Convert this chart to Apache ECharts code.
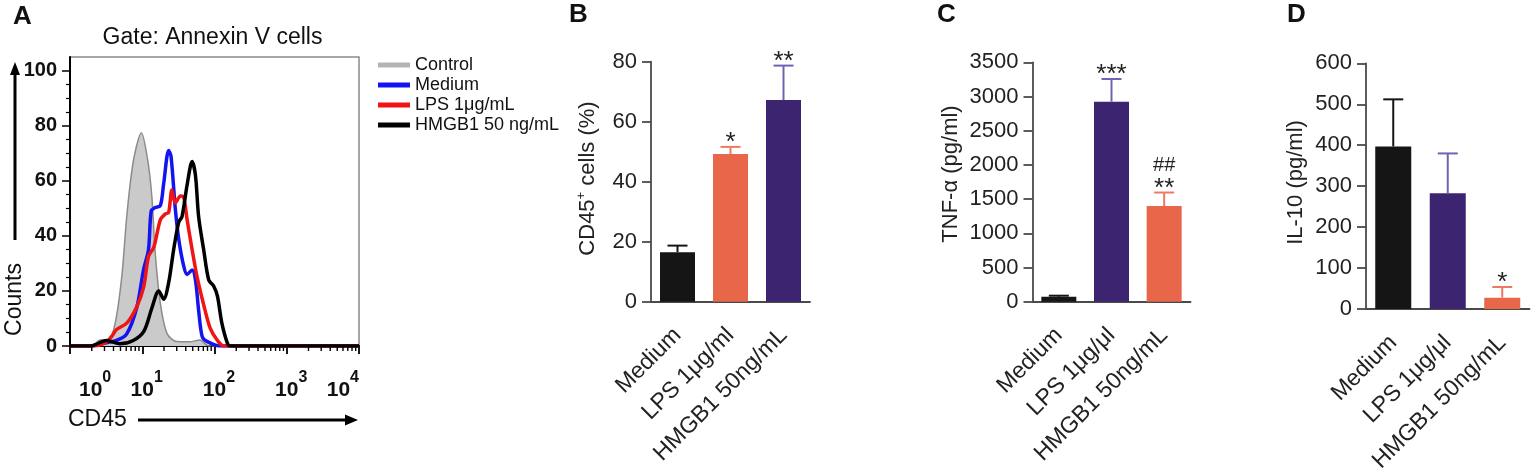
<!DOCTYPE html>
<html>
<head>
<meta charset="utf-8">
<script src="https://cdn.jsdelivr.net/npm/echarts/dist/echarts.min.js"></script>
<style>
html,body{margin:0;padding:0;background:#fff}
#chart{width:1535px;height:475px}
</style>
</head>
<body>
<div id="chart"></div>
<script>
// ---- panel A: CD45 histograms (x = CD45 intensity, y = counts) ----
const histNames = ['Control', 'Medium', 'LPS 1μg/mL', 'HMGB1 50 ng/mL']
const histControl = [[1,0],[2.1,0.5],[2.6,2.2],[3.4,2.4],[4.2,8],[5.2,25],[6.1,47],[7.2,64],[8.3,72.5],[9.7,77.5],[11.9,67.5],[13.6,54],[15.1,34],[17.8,15.5],[22,4.6],[30,1.6],[45,1.5],[63,2.2],[83,0],[10000,0]]
const histMedium = [[1,0],[1.9,0],[2.9,1],[4.4,2],[6.1,4.4],[8.4,14],[10.4,27.6],[12.2,35],[13.3,49],[15.1,50.3],[17.8,51],[19.8,59],[23.2,71],[25,69],[28.7,49.7],[32,38.8],[37.5,29],[41.7,26],[49,27.6],[54.5,24],[60.3,13],[67.6,3.4],[79.4,1.6],[120,0],[10000,0]]
const histLPS = [[1,0],[2.1,0],[3.2,1.5],[3.9,4],[4.4,6],[6.1,8.3],[8.4,14.3],[10.5,21.6],[12.2,32.5],[14.5,36],[17.8,45.8],[20.9,48],[23.2,48.5],[25.7,56.7],[28.7,52],[33.9,54.5],[37.5,54],[41.7,46],[49,35],[57.5,25],[70.8,15],[87.1,6.5],[110,2],[135,0],[10000,0]]
const histHMGB1 = [[1,0],[1.9,0],[3.2,2],[4.9,0.8],[7.5,2],[10.5,5.3],[13.6,13.8],[16.9,20],[19.8,17],[23.2,23],[27.2,35],[32,45],[35.5,47],[41.7,58.4],[49,67],[54.5,62],[60.3,47],[70.8,35],[83.2,24],[97.7,21.7],[110,18],[126,8.5],[151,1],[166,0],[10000,0]]
const countTicks = [0, 20, 40, 60, 80, 100]

// the CD45 axis is drawn in decades (log10 of intensity)
const toDecades = pts => pts.map(p => [Math.log10(p[0]), p[1]])

// log-scale minor ticks (2..9 of every decade), in decades
const minorDecadeTicks = []
for (let d = 0; d < 4; d++)
    for (let k = 2; k <= 9; k++)
        minorDecadeTicks.push([d + Math.log10(k), 0])

// ---- panels B, C, D: bar charts (mean + SEM) ----
const catB = ['Medium', 'LPS 1μg/ml', 'HMGB1 50ng/mL']
const catCD = ['Medium', 'LPS 1μg/μl', 'HMGB1 50ng/mL']

const cd45Mean = [16.5, 49.2, 67.2]
const cd45Sem = [2.2, 2.4, 11.5]
const cd45Sig = [[], ['*'], ['**']]

const tnfMean = [73, 2924, 1399]
const tnfSem = [15, 332, 197]
const tnfSig = [[], ['***'], ['##', '**']]

const il10Mean = [397, 283, 28]
const il10Sem = [115, 97, 26]
const il10Sig = [[], [], ['*']]

// colours
const BLACK = '#151515', ORANGE = '#e8664a', PURPLE = '#3d2470'
const ERR_ORANGE = '#ef7a62', ERR_PURPLE = '#7262b0'
const FONT = '"Liberation Sans", Arial, sans-serif'
const AXIS_GRAY = '#4a4a4a'

function barData(means, colors){
    return means.map((v, i) => ({value: v, itemStyle: {color: colors[i]}}))
}

function errData(means, sems){
    return means.map((v, i) => [i, v, sems[i]])
}

// error bars (upper only, GraphPad style) + significance marks
function errRender(colors, sigs){
    return function(params, api){
        const i = params.dataIndex
        const base = api.coord([api.value(0), api.value(1)])
        const top = api.coord([api.value(0), api.value(1) + api.value(2)])
        const x = base[0]
        const st = {stroke: colors[i], lineWidth: 2}
        const kids = [
            {type: 'line', shape: {x1: x, y1: base[1], x2: x, y2: top[1]}, style: st},
            {type: 'line', shape: {x1: x - 10, y1: top[1], x2: x + 10, y2: top[1]}, style: st}
        ]
        const lines = sigs[i]
        const n = lines.length
        for (let k = 0; k < n; k++){
            const isStar = lines[k].indexOf('*') >= 0
            const y = top[1] - 4 - 23 * (n - 1 - k)
            kids.push({
                type: 'text',
                style: {
                    text: lines[k], x: x, y: y,
                    font: (isStar ? '26px ' : '20px ') + FONT,
                    fill: '#222', align: 'center', verticalAlign: 'middle'
                }
            })
        }
        return {type: 'group', children: kids}
    }
}

// short minor ticks under the CD45 axis
function minorTickRender(params, api){
    const p = api.coord([api.value(0), 0])
    return {
        type: 'line',
        shape: {x1: p[0], y1: p[1], x2: p[0], y2: p[1] + 5},
        style: {stroke: '#000', lineWidth: 1.4}
    }
}

function catAxis(grid, cats){
    return {
        type: 'category', gridIndex: grid, data: cats,
        axisLine: {lineStyle: {color: AXIS_GRAY, width: 1.8}},
        axisTick: {alignWithLabel: true, length: 10, lineStyle: {color: AXIS_GRAY, width: 1.8}},
        axisLabel: {rotate: 45, margin: 30, fontSize: 23, color: '#222', fontFamily: FONT, interval: 0}
    }
}

function valAxis(grid, max, step){
    return {
        type: 'value', gridIndex: grid, min: 0, max: max, interval: step,
        splitLine: {show: false},
        axisLine: {show: true, lineStyle: {color: AXIS_GRAY, width: 1.8}},
        axisTick: {show: true, length: 9, lineStyle: {color: AXIS_GRAY, width: 1.8}},
        axisLabel: {margin: 14, fontSize: 22, color: '#222', fontFamily: FONT, formatter: v => String(v)}
    }
}

function txt(x, y, text, font, extra){
    return Object.assign({
        type: 'text', x: x, y: y, silent: true,
        style: Object.assign({
            text: text, font: font + ' ' + FONT, fill: '#111',
            align: 'left', verticalAlign: 'middle'
        }, extra && extra.style)
    }, extra && extra.el)
}

let option = {
    animation: false,
    backgroundColor: '#fff',
    legend: {
        data: histNames,
        orient: 'vertical', left: 373, top: 50,
        icon: 'rect', itemWidth: 32, itemHeight: 5, itemGap: 0,
        textStyle: {fontSize: 18, color: '#111', fontFamily: FONT, lineHeight: 20}
    },
    grid: [
        {left: 70, right: 1176, top: 57, bottom: 129, show: true, borderColor: '#8a8a8a', borderWidth: 1.5},
        {left: 651, right: 725, top: 61.7, bottom: 173.3},
        {left: 1032.5, right: 344.5, top: 62.3, bottom: 173.3},
        {left: 1366, right: 5.5, top: 63.3, bottom: 165.7}
    ],
    xAxis: [
        {
            type: 'value', min: 0, max: 4, interval: 1, gridIndex: 0,
            splitLine: {show: false},
            axisLine: {onZero: false, lineStyle: {color: '#000', width: 2}},
            axisTick: {length: 8, lineStyle: {color: '#000', width: 1.8}},
            axisLabel: {
                margin: 24, alignMinLabel: 'left', alignMaxLabel: 'right',
                formatter: v => '{b|10}{s|' + v + '}',
                rich: {
                    b: {fontSize: 21, fontWeight: 'bold', lineHeight: 40, color: '#111', fontFamily: FONT, padding: [0, 0, 0, 9]},
                    s: {fontSize: 16, fontWeight: 'bold', lineHeight: 16, verticalAlign: 'top', color: '#111', fontFamily: FONT}
                }
            }
        },
        catAxis(1, catB),
        catAxis(2, catCD),
        catAxis(3, catCD)
    ],
    yAxis: [
        {
            type: 'value', gridIndex: 0, min: 0, max: 105, interval: 20,
            splitLine: {show: false},
            axisLine: {show: true, lineStyle: {color: '#000', width: 2}},
            axisTick: {show: true, length: 8, lineStyle: {color: '#000', width: 1.5}, customValues: countTicks},
            minorTick: {show: true, splitNumber: 4, length: 4, lineStyle: {color: '#000', width: 1.2}},
            axisLabel: {
                margin: 13, fontSize: 20, fontWeight: 'bold', color: '#111', fontFamily: FONT,
                customValues: countTicks,
                formatter: v => (v % 20 === 0 ? String(v) : '')
            }
        },
        valAxis(1, 80, 20),
        valAxis(2, 3500, 500),
        valAxis(3, 600, 100)
    ],
    series: [
        {
            name: histNames[0], type: 'line', xAxisIndex: 0, yAxisIndex: 0, data: toDecades(histControl),
            smooth: 0.3, symbol: 'none', color: '#b4b4b4',
            lineStyle: {color: '#8c8c8c', width: 1.5},
            areaStyle: {color: '#cacaca', opacity: 1}
        },
        {
            name: histNames[1], type: 'line', xAxisIndex: 0, yAxisIndex: 0, data: toDecades(histMedium),
            smooth: 0.3, symbol: 'none', color: '#1414f0', lineStyle: {width: 3.5}
        },
        {
            name: histNames[2], type: 'line', xAxisIndex: 0, yAxisIndex: 0, data: toDecades(histLPS),
            smooth: 0.3, symbol: 'none', color: '#f01414', lineStyle: {width: 3.5}
        },
        {
            name: histNames[3], type: 'line', xAxisIndex: 0, yAxisIndex: 0, data: toDecades(histHMGB1),
            smooth: 0.3, symbol: 'none', color: '#000', lineStyle: {width: 3.5}
        },
        {
            type: 'custom', xAxisIndex: 0, yAxisIndex: 0, data: minorDecadeTicks,
            renderItem: minorTickRender, clip: false, silent: true, z: 10
        },
        // B
        {type: 'bar', xAxisIndex: 1, yAxisIndex: 1, barWidth: 35, data: barData(cd45Mean, [BLACK, ORANGE, PURPLE])},
        {type: 'custom', xAxisIndex: 1, yAxisIndex: 1, data: errData(cd45Mean, cd45Sem),
            renderItem: errRender([BLACK, ERR_ORANGE, ERR_PURPLE], cd45Sig), z: 3},
        // C
        {type: 'bar', xAxisIndex: 2, yAxisIndex: 2, barWidth: 35, data: barData(tnfMean, [BLACK, PURPLE, ORANGE])},
        {type: 'custom', xAxisIndex: 2, yAxisIndex: 2, data: errData(tnfMean, tnfSem),
            renderItem: errRender([BLACK, ERR_PURPLE, ERR_ORANGE], tnfSig), z: 3},
        // D
        {type: 'bar', xAxisIndex: 3, yAxisIndex: 3, barWidth: 36, data: barData(il10Mean, [BLACK, PURPLE, ORANGE])},
        {type: 'custom', xAxisIndex: 3, yAxisIndex: 3, data: errData(il10Mean, il10Sem),
            renderItem: errRender([BLACK, ERR_PURPLE, ERR_ORANGE], il10Sig), z: 3}
    ],
    graphic: [
        // panel letters
        txt(13, 16.5, 'A', 'bold 26px'),
        txt(569, 14.5, 'B', 'bold 26px'),
        txt(937, 15, 'C', 'bold 26px'),
        txt(1287, 14.5, 'D', 'bold 26px'),
        // panel A title and axis captions
        txt(212.5, 37.5, 'Gate: Annexin V cells', '23px', {style: {align: 'center'}}),
        txt(15, 299.5, 'Counts', '23px', {style: {align: 'center'}, el: {rotation: Math.PI / 2}}),
        txt(68, 420, 'CD45', '23px'),
        {type: 'line', silent: true, shape: {x1: 15, y1: 240, x2: 15, y2: 72}, style: {stroke: '#000', lineWidth: 3}},
        {type: 'polygon', silent: true, shape: {points: [[15, 62], [10, 75], [20, 75]]}, style: {fill: '#000'}},
        {type: 'line', silent: true, shape: {x1: 138, y1: 420, x2: 348, y2: 420}, style: {stroke: '#000', lineWidth: 3}},
        {type: 'polygon', silent: true, shape: {points: [[358, 420], [345, 414.5], [345, 425.5]]}, style: {fill: '#000'}},
        // y-axis titles of bar panels
        {
            type: 'text', x: 588, y: 178.5, rotation: Math.PI / 2, silent: true,
            style: {
                text: '{a|CD45}{s|+}{a| cells (%)}', align: 'center', verticalAlign: 'middle',
                rich: {
                    a: {fontSize: 22, fontFamily: FONT, fill: '#222', lineHeight: 26},
                    s: {fontSize: 13, fontFamily: FONT, fill: '#222', verticalAlign: 'top', lineHeight: 13}
                }
            }
        },
        txt(951, 174, 'TNF-α (pg/ml)', '22px', {style: {align: 'center', fill: '#222'}, el: {rotation: Math.PI / 2}}),
        txt(1296, 182.5, 'IL-10 (pg/ml)', '22px', {style: {align: 'center', fill: '#222'}, el: {rotation: Math.PI / 2}})
    ]
}

let chartDom = echarts.init(document.querySelector('#chart'))
chartDom.setOption(option)
</script>
</body>
</html>
